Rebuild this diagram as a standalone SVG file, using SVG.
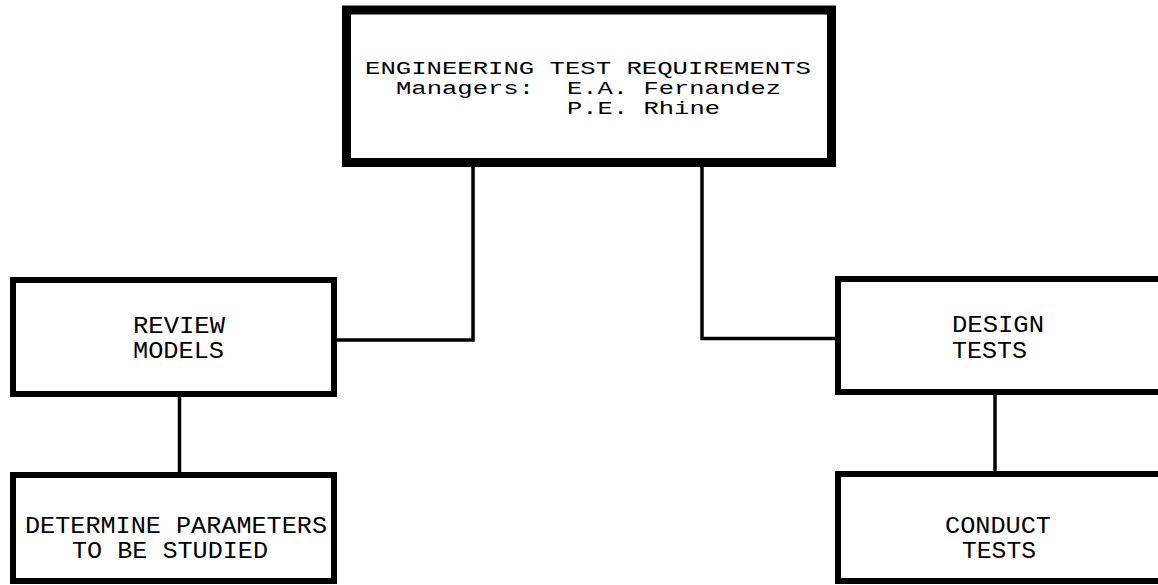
<svg xmlns="http://www.w3.org/2000/svg" width="1158" height="585" viewBox="0 0 1158 585">
<style>
.box{fill:#fff;stroke:#000;stroke-width:6}
.top{stroke-width:9}
.t{font-family:"Liberation Mono","Courier New",monospace;font-size:24px;fill:#000}
.s{font-size:18px}
.c{fill:none;stroke:#000;stroke-width:3.5}
</style>
<rect width="1158" height="585" fill="#fff"/>
<g id="connectors">
<path class="c" d="M473 166 V340 H336"/>
<path class="c" d="M702 166 V338.5 H836"/>
<path class="c" d="M179.5 396 V473"/>
<path class="c" d="M995 394 V472"/>
</g>
<g id="n-engineering">
<rect class="box top" x="346.5" y="10" width="485" height="152.5"/>
<text class="t s" x="365" y="74" textLength="446" lengthAdjust="spacingAndGlyphs">ENGINEERING TEST REQUIREMENTS</text>
<text class="t s" x="396" y="94" textLength="138" lengthAdjust="spacingAndGlyphs">Managers:</text>
<text class="t s" x="567" y="94" textLength="214" lengthAdjust="spacingAndGlyphs">E.A. Fernandez</text>
<text class="t s" x="567" y="114" textLength="153" lengthAdjust="spacingAndGlyphs">P.E. Rhine</text>
</g>
<g id="n-review">
<rect class="box" x="13" y="280" width="321" height="114"/>
<text class="t" x="133" y="333" textLength="92" lengthAdjust="spacingAndGlyphs">REVIEW</text>
<text class="t" x="133" y="358" textLength="91" lengthAdjust="spacingAndGlyphs">MODELS</text>
</g>
<g id="n-determine">
<rect class="box" x="13" y="475" width="321" height="106"/>
<text class="t" x="25" y="533" textLength="302" lengthAdjust="spacingAndGlyphs">DETERMINE PARAMETERS</text>
<text class="t" x="72" y="558" textLength="196" lengthAdjust="spacingAndGlyphs">TO BE STUDIED</text>
</g>
<g id="n-design">
<rect class="box" x="838" y="279" width="330" height="113"/>
<text class="t" x="952" y="332" textLength="92" lengthAdjust="spacingAndGlyphs">DESIGN</text>
<text class="t" x="952" y="358" textLength="75" lengthAdjust="spacingAndGlyphs">TESTS</text>
</g>
<g id="n-conduct">
<rect class="box" x="838" y="474" width="330" height="107"/>
<text class="t" x="945" y="533" textLength="106" lengthAdjust="spacingAndGlyphs">CONDUCT</text>
<text class="t" x="962" y="558" textLength="74" lengthAdjust="spacingAndGlyphs">TESTS</text>
</g>
</svg>
